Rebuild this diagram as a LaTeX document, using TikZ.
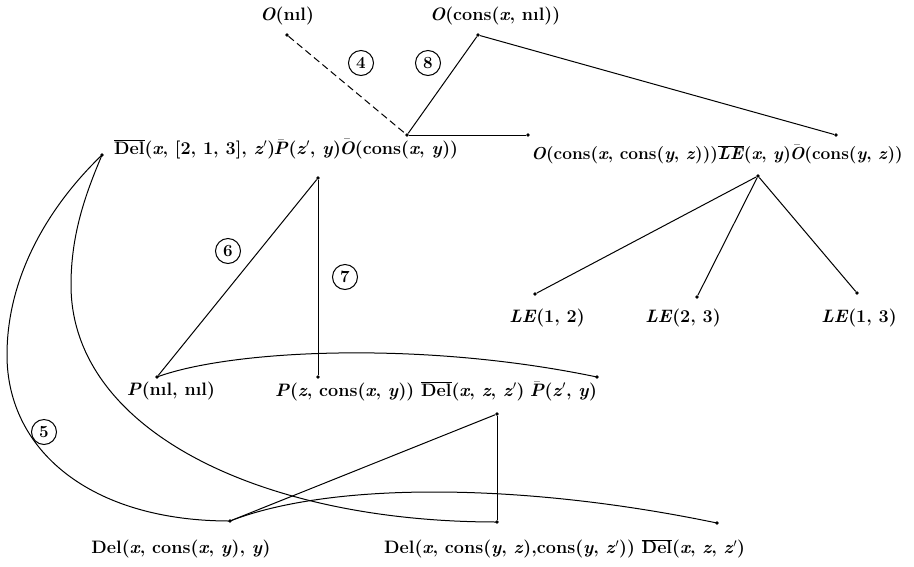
\documentclass[tikz,border=0pt]{standalone}
\newcommand{\ovl}[1]{$\overline{\hbox{#1}}$}
\newcommand{\brr}[1]{\kern-1.5pt$\bar{\hbox{#1}}$}
\newcommand{\pr}{$'$}
\begin{document}
\begin{tikzpicture}[x=1pt,y=-1pt,
  dot/.style={circle,fill,inner sep=0pt,minimum size=3.6pt},
  lbl/.style={inner sep=0pt,font=\fontsize{18}{20}\selectfont\bfseries},
  lbls/.style={inner sep=0pt,font=\fontsize{17.3}{19}\selectfont\bfseries},
  num/.style={circle,draw,line width=1pt,inner sep=0pt,minimum size=25pt,font=\fontsize{17}{17}\selectfont\bfseries},
  edge/.style={line width=1pt}]
\useasboundingbox (0,0) rectangle (914,566);
% dots
\node[dot] (onil) at (287,35) {};
\node[dot] (ocons) at (478,35) {};
\node[dot] (j) at (407,135) {};
\node[dot] (jr) at (528,135) {};
\node[dot] (r) at (836,135) {};
\node[dot] (dd) at (102,155) {};
\node[dot] (le) at (758,176) {};
\node[dot] (le12) at (535,294) {};
\node[dot] (le23) at (697,297) {};
\node[dot] (le13) at (857,293) {};
\node[dot] (tt) at (318,178) {};
\node[dot] (tb) at (318,377) {};
\node[dot] (pn) at (157,377) {};
\node[dot] (pe) at (597,377) {};
\node[dot] (lt) at (497,414) {};
\node[dot] (lb) at (497,522) {};
\node[dot] (dl) at (230,521) {};
\node[dot] (de) at (717,523) {};
\coordinate (o1) at (7,355);
\coordinate (i1) at (71,285);
% labels
\node[lbl] (tonil) at (287,16) {\textit{O}(nıl)};
\node[lbl] (tocons) at (495,16) {\textit{O}(cons(\textit{x}, nıl))};
\node[lbl,anchor=west] (tdel) at (114,149) {\ovl{Del}(\textit{x}, [2, 1, 3], \textit{z}\pr)\brr{\textit{P}}(\textit{z}\pr, \textit{y})\brr{\textit{O}}(cons(\textit{x}, \textit{y}))};
\node[lbls,anchor=west] (tocz) at (531,154) {\textit{O}(cons(\textit{x}, cons(\textit{y}, \textit{z})))\ovl{\textit{LE}}(\textit{x}, \textit{y})\brr{\textit{O}}(cons(\textit{y}, \textit{z}))};
\node[lbl] (tle12) at (547,318) {\textit{LE}(1, 2)};
\node[lbl] (tle23) at (683,318) {\textit{LE}(2, 3)};
\node[lbl] (tle13) at (859,318) {\textit{LE}(1, 3)};
\node[lbl] (tpn) at (171,391) {\textit{P}(nıl, nıl)};
\node[lbl,anchor=west] (tpz) at (275,391) {\textit{P}(\textit{z}, cons(\textit{x}, \textit{y})) \ovl{Del}(\textit{x}, \textit{z}, \textit{z}\pr) \brr{\textit{P}}(\textit{z}\pr, \textit{y})};
\node[lbl] (tdl) at (181,549) {Del(\textit{x}, cons(\textit{x}, \textit{y}), \textit{y})};
\node[lbl,anchor=west] (tdc) at (384,549) {Del(\textit{x}, cons(\textit{y}, \textit{z}),cons(\textit{y}, \textit{z}\pr)) \ovl{Del}(\textit{x}, \textit{z}, \textit{z}\pr)};
% numbered circles
\node[num] (n4) at (361,63) {4};
\node[num] (n8) at (428,63) {8};
\node[num] (n6) at (228,251) {6};
\node[num] (n7) at (345,277) {7};
\node[num] (n5) at (44,432) {5};
% connectors
\draw[edge,dash pattern=on 7pt off 4pt] (onil) -- (j);
\draw[edge] (ocons) -- (j);
\draw[edge] (j) -- (jr);
\draw[edge] (ocons) -- (r);
\draw[edge] (le) -- (le12);
\draw[edge] (le) -- (le23);
\draw[edge] (le) -- (le13);
\draw[edge] (tt) -- (tb);
\draw[edge] (tt) -- (pn);
\draw[edge] (pn.center) .. controls (230,350) and (420,340) .. (pe.center);
\draw[edge] (lt) -- (lb);
\draw[edge] (lt) -- (dl);
\draw[edge] (dl.center) .. controls (330,482) and (520,482) .. (de.center);
\draw[edge] (dd.center) .. controls (50,205) and (7,275) .. (o1) .. controls (7,450) and (90,521) .. (dl.center);
\draw[edge] (dd.center) .. controls (85,195) and (71,235) .. (i1) .. controls (71,430) and (260,522) .. (lb.center);
\end{tikzpicture}
\end{document}
